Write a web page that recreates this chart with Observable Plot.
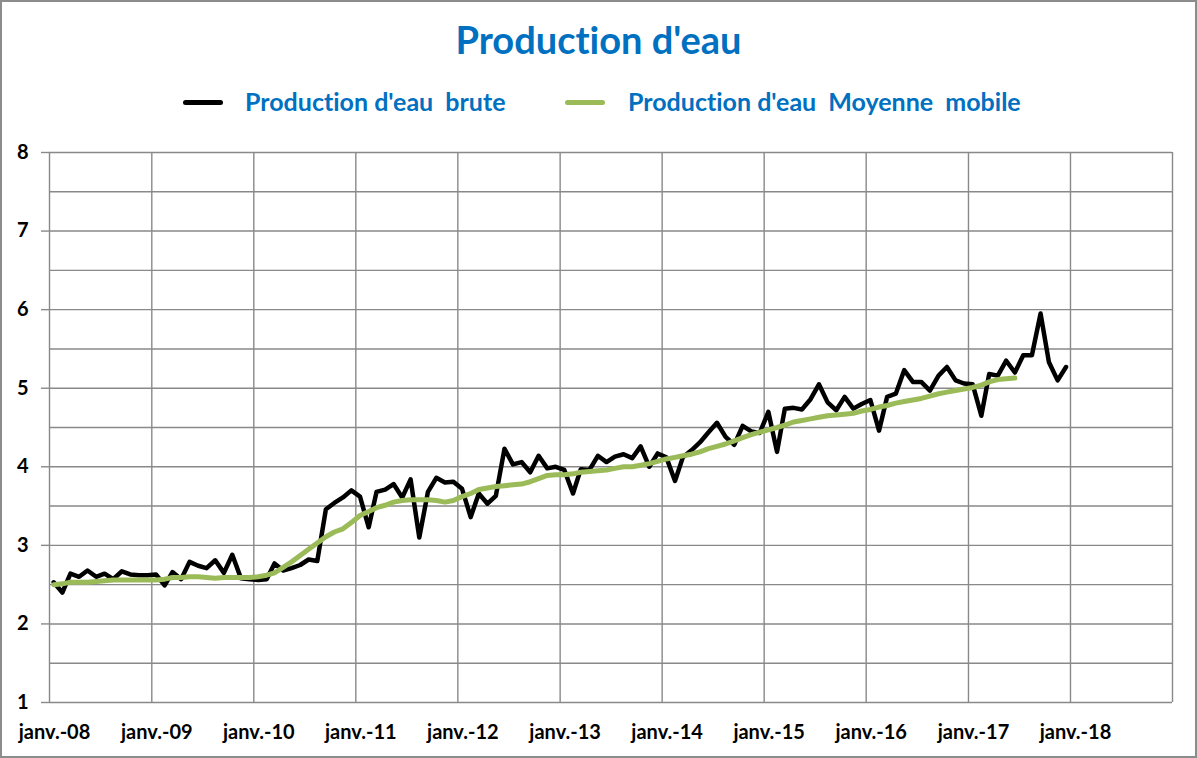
<!DOCTYPE html>
<html><head><meta charset="utf-8">
<script src="https://cdn.jsdelivr.net/npm/d3@7"></script>
<script src="https://cdn.jsdelivr.net/npm/@observablehq/plot@0.6"></script>
<style>
body{margin:0;background:#fff;font-family:Lato,"Open Sans",sans-serif;font-variant-ligatures:none;}
#frame{position:absolute;left:0;top:0;width:1197px;height:758px;box-sizing:border-box;border:2px solid #8c8c8c;pointer-events:none;}
#title{position:absolute;left:0;width:1197px;top:17px;text-align:center;color:#0070C0;font-weight:bold;font-size:38px;line-height:1.2;}
.lg{position:absolute;top:86px;color:#0070C0;font-weight:bold;font-size:25px;line-height:1.2;white-space:pre;}
.sw{position:absolute;top:100px;width:40px;height:5px;border-radius:3px;}
#chart{position:absolute;left:0;top:130px;}
#chart svg text{font-variant-ligatures:none;}
</style>
</head><body>
<div id="title">Production d'eau</div>
<div class="sw" style="left:183px;background:#000"></div>
<div class="lg" style="left:245px">Production d'eau  brute</div>
<div class="sw" style="left:565px;background:#9BBB59"></div>
<div class="lg" style="left:628px">Production d'eau  Moyenne  mobile</div>
<div id="chart"></div>
<div id="frame"></div>
<script>
const startYear = 2008;
const brute = [
 2.53, 2.40, 2.64, 2.60, 2.68, 2.60, 2.64, 2.57, 2.67, 2.63, 2.62, 2.62,
 2.63, 2.49, 2.66, 2.57, 2.79, 2.74, 2.71, 2.81, 2.65, 2.88, 2.58, 2.57,
 2.56, 2.57, 2.77, 2.68, 2.71, 2.75, 2.82, 2.80, 3.46, 3.54, 3.61, 3.70,
 3.62, 3.23, 3.68, 3.71, 3.78, 3.61, 3.84, 3.10, 3.68, 3.86, 3.80, 3.81,
 3.72, 3.36, 3.66, 3.53, 3.63, 4.23, 4.03, 4.06, 3.93, 4.14, 3.98, 4.00,
 3.96, 3.66, 3.97, 3.96, 4.14, 4.06, 4.13, 4.16, 4.11, 4.26, 4.00, 4.17,
 4.12, 3.82, 4.12, 4.21, 4.31, 4.44, 4.56, 4.38, 4.28, 4.52, 4.45, 4.43,
 4.70, 4.19, 4.74, 4.75, 4.73, 4.86, 5.05, 4.82, 4.72, 4.89, 4.74, 4.80,
 4.85, 4.46, 4.89, 4.93, 5.23, 5.08, 5.08, 4.97, 5.16, 5.27, 5.10, 5.06,
 5.05, 4.65, 5.18, 5.16, 5.35, 5.20, 5.42, 5.42, 5.95, 5.33, 5.10, 5.27
];
const moyenne = [
 2.50, 2.51, 2.53, 2.53, 2.53, 2.54, 2.55, 2.56, 2.56, 2.56, 2.56, 2.56,
 2.56, 2.57, 2.59, 2.59, 2.60, 2.60, 2.59, 2.58, 2.59, 2.59, 2.59, 2.59,
 2.60, 2.62, 2.65, 2.72, 2.79, 2.87, 2.95, 3.03, 3.11, 3.17, 3.21, 3.29,
 3.38, 3.43, 3.48, 3.51, 3.55, 3.57, 3.58, 3.58, 3.58, 3.57, 3.55, 3.57,
 3.62, 3.66, 3.71, 3.73, 3.75, 3.76, 3.77, 3.78, 3.81, 3.85, 3.89, 3.90,
 3.90, 3.91, 3.93, 3.94, 3.95, 3.96, 3.98, 4.00, 4.00, 4.02, 4.04, 4.07,
 4.10, 4.12, 4.14, 4.16, 4.19, 4.23, 4.26, 4.29, 4.33, 4.37, 4.41, 4.44,
 4.47, 4.50, 4.53, 4.57, 4.59, 4.61, 4.63, 4.65, 4.66, 4.67, 4.68, 4.71,
 4.73, 4.76, 4.78, 4.81, 4.83, 4.85, 4.87, 4.90, 4.93, 4.95, 4.97, 4.99,
 5.01, 5.04, 5.08, 5.11, 5.12, 5.13
];
const yearLabels = ["janv.-08","janv.-09","janv.-10","janv.-11","janv.-12","janv.-13","janv.-14","janv.-15","janv.-16","janv.-17","janv.-18"];
const yTicks = [1,2,3,4,5,6,7,8];

const monthDate = i => new Date(Date.UTC(startYear, i, 16));
const dataBrute = brute.map((v,i)=>({date: monthDate(i), v}));
const dataMoy = moyenne.map((v,i)=>({date: monthDate(i), v}));
const yearTicks = d3.range(startYear, startYear + 12).map(y => new Date(Date.UTC(y,0,1)));
const labelTicks = yearTicks.slice(0, yearLabels.length);
const gridYTicks = d3.range(1, 8.001, 0.5);
const gray = "#898989";

const chart = Plot.plot({
  width: 1197, height: 622,
  marginLeft: 49, marginRight: 25, marginTop: 22, marginBottom: 50,
  style: {fontFamily: "Lato, 'Open Sans', sans-serif", background: "transparent", color: "#000"},
  x: {type: "utc", domain: [yearTicks[0], yearTicks[11]]},
  y: {domain: [1, 8]},
  marks: [
    Plot.gridY(gridYTicks, {stroke: gray, strokeOpacity: 1, strokeWidth: 1.4}),
    Plot.gridX(yearTicks, {stroke: gray, strokeOpacity: 1, strokeWidth: 1.4}),
    Plot.axisY(yTicks, {tickSize: 8, tickPadding: 13, stroke: gray, strokeWidth: 1.4, fontSize: 20, fontWeight: "bold", fill: "#000", label: null,
      tickFormat: d => String(d)}),
    Plot.axisX(labelTicks, {tickSize: 0, tickPadding: 22, dx: 5, fontSize: 20, fontWeight: "bold", fill: "#000", label: null,
      tickFormat: d => yearLabels[d.getUTCFullYear() - startYear]}),
    Plot.lineY(dataBrute, {x: "date", y: "v", stroke: "#000", strokeWidth: 4.5, strokeLinejoin: "round", strokeLinecap: "round"}),
    Plot.lineY(dataMoy, {x: "date", y: "v", stroke: "#9BBB59", strokeWidth: 5, strokeLinejoin: "round", strokeLinecap: "round"})
  ]
});
document.getElementById("chart").appendChild(chart);
</script>
</body></html>
